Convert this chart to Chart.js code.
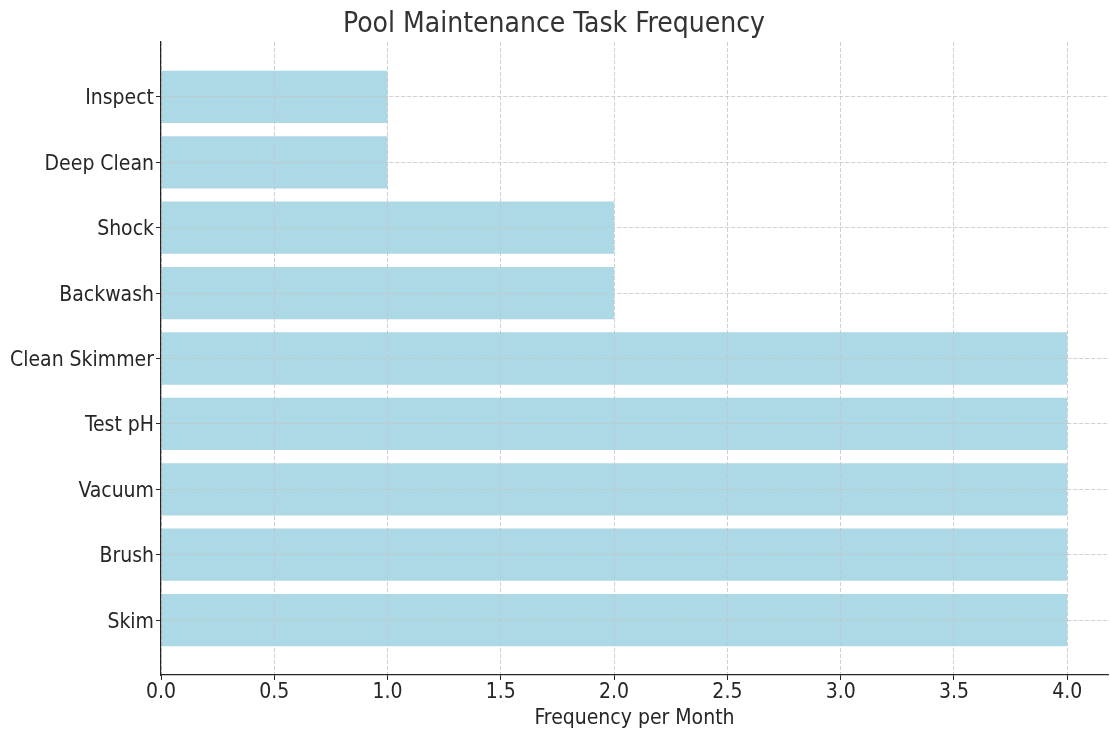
<!DOCTYPE html>
<html>
<head>
<meta charset="utf-8">
<script src="https://cdn.jsdelivr.net/npm/chart.js@4.4.1/dist/chart.umd.min.js"></script>
<style>
  html, body { margin: 0; padding: 0; background: #fff; }
  #wrap { width: 1110px; height: 735px; }
</style>
</head>
<body>
<div id="wrap"><canvas id="myChart"></canvas></div>
<script>
  // categories bottom to top, as the axis reads
  const tasks = ['Skim', 'Brush', 'Vacuum', 'Test pH', 'Clean Skimmer',
    'Backwash', 'Shock', 'Deep Clean', 'Inspect'];
  const perMonth = [4, 4, 4, 4, 4, 2, 2, 1, 1];
  const xTicks = [0, 0.5, 1, 1.5, 2, 2.5, 3, 3.5, 4];

  const fontName = '"DejaVu Sans Condensed", "DejaVu Sans", sans-serif';
  Chart.defaults.font.family = fontName;
  Chart.defaults.color = '#262626';

  // grid drawn above the bars, like the original
  const gridStyle = {
    color: '#c4c4c4',
    lineWidth: 0.8,
    offset: false,
    z: 1,
    tickColor: '#262626',
    tickBorderDash: [],
    tickWidth: 1,
    tickLength: 5
  };

  // border.dash is used for the grid lines in v4
  const borderStyle = { display: true, color: '#262626', width: 1.2, dash: [4, 2], z: 2 };

  const data = {
    datasets: [{
      label: 'Frequency',
      data: tasks.map((t, i) => ({ x: perMonth[i], y: i })),
      backgroundColor: '#add8e6',
      borderWidth: 0,
      barPercentage: 0.8,
      categoryPercentage: 1
    }]
  };

  const config = {
    type: 'bar',
    data: data,
    options: {
      indexAxis: 'y',
      responsive: true,
      maintainAspectRatio: false,
      animation: false,
      layout: { padding: { left: 0, right: 2, top: 0, bottom: 0 } },
      plugins: {
        legend: { display: false },
        tooltip: { enabled: false },
        title: {
          display: true,
          text: 'Pool Maintenance Task Frequency',
          color: '#333333',
          font: { size: 28, weight: 'normal' },
          padding: { top: 8, bottom: 0.4 }
        }
      },
      scales: {
        x: {
          type: 'linear',
          min: 0,
          max: 4.18,
          afterBuildTicks: s => { s.ticks = xTicks.map(v => ({ value: v })); },
          afterFit: s => { s.height = 60; },
          ticks: {
            font: { size: 21 },
            padding: 0,
            callback: v => v.toFixed(1)
          },
          grid: gridStyle,
          border: borderStyle,
          title: {
            display: true,
            text: 'Frequency per Month',
            font: { size: 21 },
            padding: { top: 0, bottom: 4 }
          }
        },
        y: {
          type: 'linear',
          min: -0.84,
          max: 8.84,
          offset: false,
          afterBuildTicks: s => { s.ticks = tasks.map((t, i) => ({ value: i })); },
          afterFit: s => { s.width = 161; },
          ticks: {
            font: { size: 21 },
            padding: 2,
            labelOffset: 2,
            callback: v => tasks[v]
          },
          grid: gridStyle,
          border: borderStyle
        }
      }
    }
  };

  const myChart = new Chart(document.getElementById('myChart'), config);
</script>
</body>
</html>
